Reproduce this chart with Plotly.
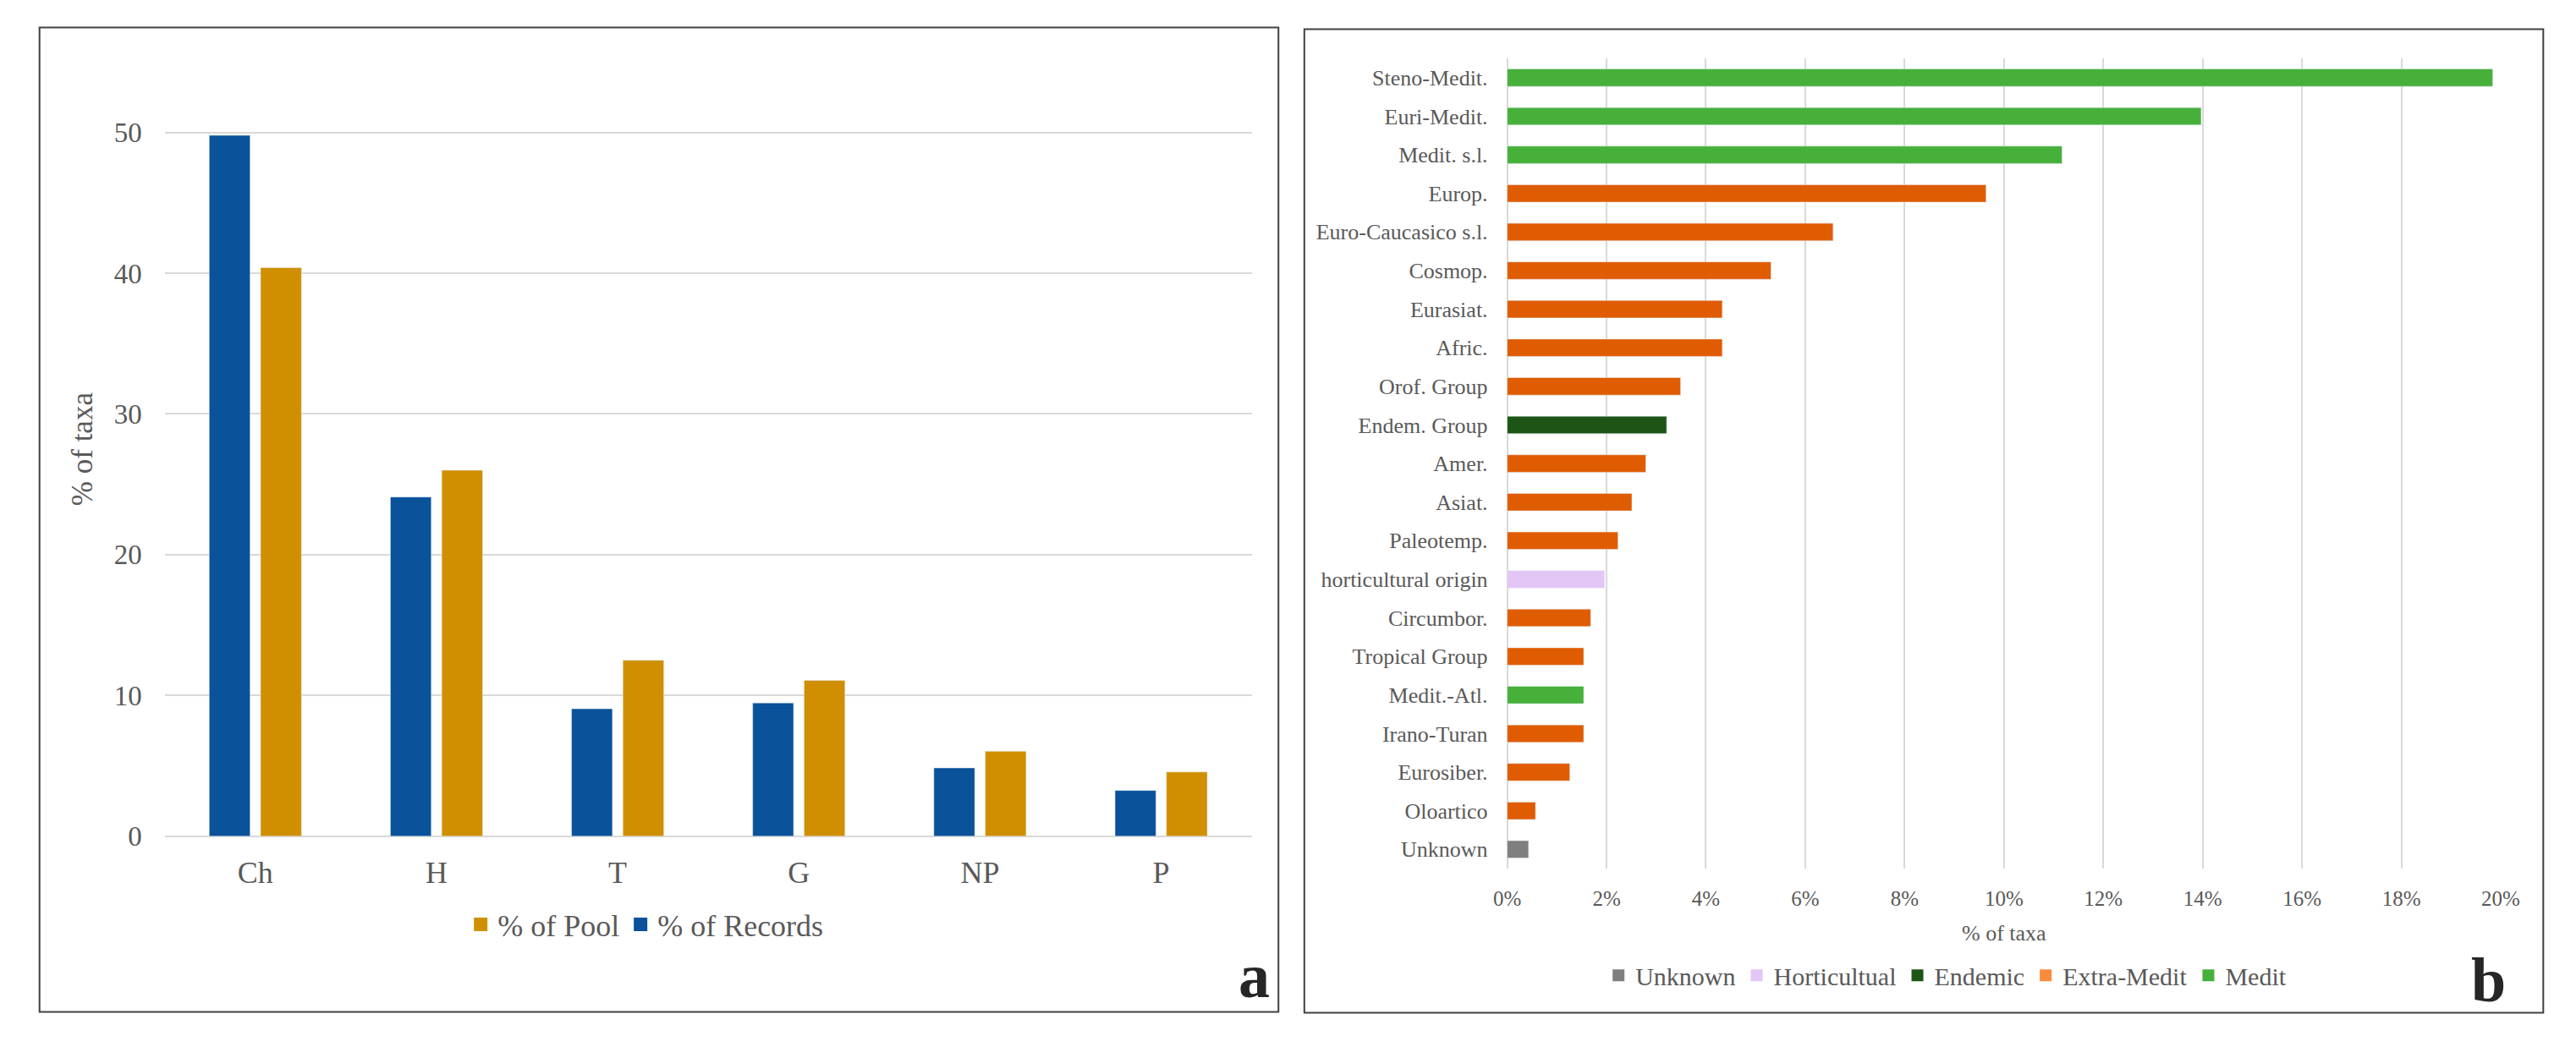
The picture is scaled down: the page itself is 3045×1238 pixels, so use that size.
import plotly.graph_objects as go

# panel a: life forms
life_forms = ["Ch", "H", "T", "G", "NP", "P"]
pct_records = [49.8, 24.1, 9.05, 9.47, 4.85, 3.25]
pct_pool = [40.4, 26.0, 12.5, 11.07, 6.03, 4.56]

# panel b: chorotypes, top to bottom
chorotypes = [
    "Steno-Medit.", "Euri-Medit.", "Medit. s.l.", "Europ.", "Euro-Caucasico s.l.",
    "Cosmop.", "Eurasiat.", "Afric.", "Orof. Group", "Endem. Group", "Amer.",
    "Asiat.", "Paleotemp.", "horticultural origin", "Circumbor.", "Tropical Group",
    "Medit.-Atl.", "Irano-Turan", "Eurosiber.", "Oloartico", "Unknown",
]
chorotype_pct = [
    19.84, 13.97, 11.17, 9.64, 6.56,
    5.31, 4.33, 4.33, 3.49, 3.21, 2.79,
    2.51, 2.23, 1.96, 1.68, 1.54,
    1.54, 1.54, 1.26, 0.57, 0.43,
]
chorotype_group = [
    "Medit", "Medit", "Medit", "Extra-Medit", "Extra-Medit",
    "Extra-Medit", "Extra-Medit", "Extra-Medit", "Extra-Medit", "Endemic", "Extra-Medit",
    "Extra-Medit", "Extra-Medit", "Horticultual", "Extra-Medit", "Extra-Medit",
    "Medit", "Extra-Medit", "Extra-Medit", "Extra-Medit", "Unknown",
]
legend_groups = ["Unknown", "Horticultual", "Endemic", "Extra-Medit", "Medit"]

# styles
BLUE = "#0A5299"
GOLD = "#D08F00"
BAR_COLORS = {
    "Medit": "#46B03B",
    "Extra-Medit": "#E05C00",
    "Endemic": "#1D5517",
    "Horticultual": "#E3C6F5",
    "Unknown": "#7F7F7F",
}
SWATCH_COLORS = dict(BAR_COLORS, **{"Extra-Medit": "#FB8B3C"})
FONT = "Liberation Serif"
TEXT = "#595959"
GRID = "#D9D9D9"
W, H = 3045, 1238


def px_x(v):
    return v / W


def px_y(v):
    return 1 - v / H


fig = go.Figure()

# panel a bars
fig.add_trace(go.Bar(x=life_forms, y=pct_records, marker_color=BLUE,
                     xaxis="x", yaxis="y", showlegend=False))
fig.add_trace(go.Bar(x=life_forms, y=pct_pool, marker_color=GOLD,
                     xaxis="x", yaxis="y", showlegend=False))

# panel a legend entries (pool first, as in the original)
for name, col in [("% of Pool", GOLD), ("% of Records", BLUE)]:
    fig.add_trace(go.Scatter(x=[None], y=[None], mode="markers", name=name,
                             marker=dict(symbol="square", size=16, color=col),
                             xaxis="x", yaxis="y", legend="legend"))

# panel b bars
fig.add_trace(go.Bar(
    x=chorotype_pct, y=chorotypes, orientation="h",
    marker_color=[BAR_COLORS[g] for g in chorotype_group],
    xaxis="x2", yaxis="y2", showlegend=False,
))
for g in legend_groups:
    fig.add_trace(go.Scatter(x=[None], y=[None], mode="markers", name=g,
                             marker=dict(symbol="square", size=14, color=SWATCH_COLORS[g]),
                             xaxis="x2", yaxis="y2", legend="legend2"))

fig.update_layout(
    width=W, height=H,
    margin=dict(l=0, r=0, t=0, b=0),
    paper_bgcolor="white", plot_bgcolor="white",
    font=dict(family=FONT, color=TEXT),
    barmode="group", bargap=0.433, bargroupgap=0.204,
    xaxis=dict(
        domain=[px_x(172), px_x(1474)], anchor="y",
        showgrid=False, showline=False, ticks="", ticklabelstandoff=18,
        tickfont=dict(size=36),
    ),
    yaxis=dict(
        domain=[px_y(996), px_y(66.5)], anchor="x",
        range=[0, 55], tickvals=[0, 10, 20, 30, 40, 50],
        showgrid=True, gridcolor=GRID, gridwidth=2,
        zeroline=True, zerolinecolor=GRID, zerolinewidth=2,
        showline=False, ticks="", ticklabelstandoff=26,
        tickfont=dict(size=33),
        title=dict(text="% of taxa", font=dict(size=35), standoff=14),
    ),
    xaxis2=dict(
        domain=[px_x(1780), px_x(2970)], anchor="y2",
        range=[0, 20], dtick=2, ticksuffix="%",
        showgrid=True, gridcolor=GRID, gridwidth=1.5,
        zeroline=True, zerolinecolor=GRID, zerolinewidth=1.5,
        showline=False, ticks="", ticklabelstandoff=18,
        tickfont=dict(size=25),
        title=dict(text="% of taxa", font=dict(size=26), standoff=18),
    ),
    yaxis2=dict(
        domain=[px_y(1035), px_y(62)], anchor="x2",
        autorange="reversed", showgrid=False, showline=False,
        ticks="", ticklabelstandoff=22, tickfont=dict(size=26),
    ),
    legend=dict(
        orientation="h", x=px_x(748), y=px_y(1102),
        xanchor="center", yanchor="middle",
        font=dict(size=36, color=TEXT), bgcolor="rgba(0,0,0,0)",
    ),
    legend2=dict(
        orientation="h", x=px_x(2306), y=px_y(1163),
        xanchor="center", yanchor="middle",
        font=dict(size=30, color=TEXT), bgcolor="rgba(0,0,0,0)",
    ),
    shapes=[
        dict(type="rect", xref="paper", yref="paper",
             x0=px_x(22), x1=px_x(1506), y0=px_y(1207), y1=px_y(25),
             line=dict(color="#404040", width=2)),
        dict(type="rect", xref="paper", yref="paper",
             x0=px_x(1537), x1=px_x(3021), y0=px_y(1208), y1=px_y(27),
             line=dict(color="#404040", width=2)),
    ],
    annotations=[
        dict(text="<b>a</b>", xref="paper", yref="paper", x=px_x(1477), y=px_y(1164),
             yanchor="middle", showarrow=False,
             font=dict(size=74, color="#262626", family=FONT)),
        dict(text="<b>b</b>", xref="paper", yref="paper", x=px_x(2978), y=px_y(1169),
             yanchor="middle", showarrow=False,
             font=dict(size=74, color="#262626", family=FONT)),
    ],
)

fig.write_html("out.html")
